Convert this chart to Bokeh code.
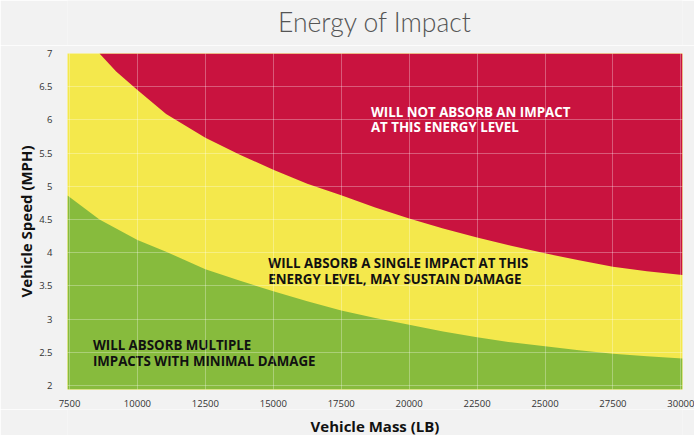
from bokeh.plotting import figure
from bokeh.layouts import column
from bokeh.models import Range1d, FixedTicker
from bokeh.core.properties import value
from bokeh.embed import file_html
from bokeh.resources import INLINE

# ---- data ----
mass_red = [8603, 9217, 10000, 11055, 12500, 13750, 15000, 16250, 17500, 18750,
            20000, 21250, 22500, 23750, 25000, 26250, 27500, 28750, 30060]
speed_red = [7.0, 6.73, 6.45, 6.09, 5.73, 5.48, 5.25, 5.04, 4.865, 4.68,
             4.516, 4.366, 4.23, 4.105, 3.99, 3.886, 3.79, 3.72, 3.665]

mass_green = [7426, 8603, 10000, 11055, 12500, 13750, 15000, 16250, 17500, 18750,
              20000, 21250, 22500, 23750, 25000, 26250, 27500, 28750, 30060]
speed_green = [4.86, 4.50, 4.19, 4.015, 3.75, 3.58, 3.42, 3.27, 3.13, 3.016,
               2.915, 2.815, 2.725, 2.65, 2.59, 2.53, 2.48, 2.44, 2.405]

x_ticks = [7500, 10000, 12500, 15000, 17500, 20000, 22500, 25000, 27500, 30000]
y_ticks = [2, 2.5, 3, 3.5, 4, 4.5, 5, 5.5, 6, 6.5, 7]
y_tick_labels = {2: "2", 2.5: "2.5", 3: "3", 3.5: "3.5", 4: "4", 4.5: "4.5",
                 5: "5", 5.5: "5.5", 6: "6", 6.5: "6.5", 7: "7"}

zone_texts = ["WILL NOT ABSORB AN IMPACT", "AT THIS ENERGY LEVEL",
              "WILL ABSORB A SINGLE IMPACT AT THIS", "ENERGY LEVEL, MAY SUSTAIN DAMAGE",
              "WILL ABSORB MULTIPLE", "IMPACTS WITH MINIMAL DAMAGE"]
zone_x = [18592, 18592, 14816, 14816, 8360, 8360]
zone_y = [6.126, 5.886, 3.841, 3.601, 2.605, 2.365]
zone_colors = ["white", "white", "#111111", "#111111", "#111111", "#111111"]

title_text = "Energy of Impact"
x_label = "Vehicle Mass (LB)"
y_label = "Vehicle Speed (MPH)"

RED = "#c9133f"
YELLOW = "#f4e84c"
GREEN = "#87bb3d"
BG = "#f2f2f2"

X0, X1 = 7426, 30060
Y0, Y1 = 1.94, 7.0

W = 694
H_TOP, H_MAIN, H_BOT = 45, 364, 26   # total 435
BL, BR = 67, 12


def strip(height, text, font, size, style, color, y_text):
    # a text strip; in the column its frame lines up with the chart's frame
    s = figure(width=W, height=height, output_backend="svg", toolbar_location=None,
               x_range=Range1d(0, 1), y_range=Range1d(0, height),
               x_axis_location=None, y_axis_location=None,
               min_border_left=BL, min_border_right=BR,
               min_border_top=0, min_border_bottom=0, outline_line_color=None,
               background_fill_color=BG, border_fill_color=BG)
    s.grid.visible = False
    s.text(x=[0.5], y=[height - y_text], text=[text], text_align="center",
           text_baseline="middle", text_font=value(font), text_font_size=size,
           text_font_style=style, text_color=color)
    return s


p_title = strip(H_TOP, title_text, "Lato Light, Lato", "26.5px", "normal", "#555555", 21.5)
p_xlab = strip(H_BOT, x_label, "Open Sans", "15px", "bold", "#111111", 16.5)

p = figure(width=W, height=H_MAIN, output_backend="svg", toolbar_location=None,
           x_range=Range1d(X0, X1), y_range=Range1d(Y0, Y1),
           min_border_left=BL, min_border_right=BR, min_border_top=8, min_border_bottom=19,
           background_fill_color=YELLOW, border_fill_color=BG, outline_line_color=None)

# zones
p.varea(x=mass_green, y1=[Y0] * len(mass_green), y2=speed_green, fill_color=GREEN)
p.varea(x=mass_red, y1=speed_red, y2=[Y1] * len(mass_red), fill_color=RED)

# zone labels
p.text(x=zone_x, y=zone_y, text=zone_texts, text_color=zone_colors,
       text_font=value("Open Sans"), text_font_style="bold", text_font_size="13.3px",
       text_align="left", text_baseline="middle")

# axes
p.xaxis.ticker = FixedTicker(ticks=x_ticks)
p.yaxis.ticker = FixedTicker(ticks=y_ticks)
p.yaxis.major_label_overrides = y_tick_labels
for ax in (p.xaxis[0], p.yaxis[0]):
    ax.axis_line_color = None
    ax.major_tick_line_color = None
    ax.minor_tick_line_color = None
    ax.major_label_text_font = "Open Sans"
    ax.major_label_text_font_size = "9.5px"
    ax.major_label_text_color = "#333333"
p.xaxis.major_label_standoff = 4
p.yaxis.major_label_standoff = 9
p.yaxis.major_label_orientation = "horizontal"
p.yaxis.axis_label = y_label
p.yaxis.axis_label_standoff = 0
p.yaxis.axis_label_text_font = "Open Sans"
p.yaxis.axis_label_text_font_style = "bold"
p.yaxis.axis_label_text_font_size = "15px"
p.yaxis.axis_label_text_color = "#111111"

# grid over the zones
for g in (p.xgrid[0], p.ygrid[0]):
    g.grid_line_color = "white"
    g.grid_line_alpha = 0.3
    g.grid_line_width = 1
    g.level = "overlay"

layout = column(p_title, p, p_xlab, spacing=0)

html = file_html(layout, INLINE)
html = html.replace("<body>", '<body style="margin:0;background:%s">' % BG, 1)
open("out.html", "w").write(html)
